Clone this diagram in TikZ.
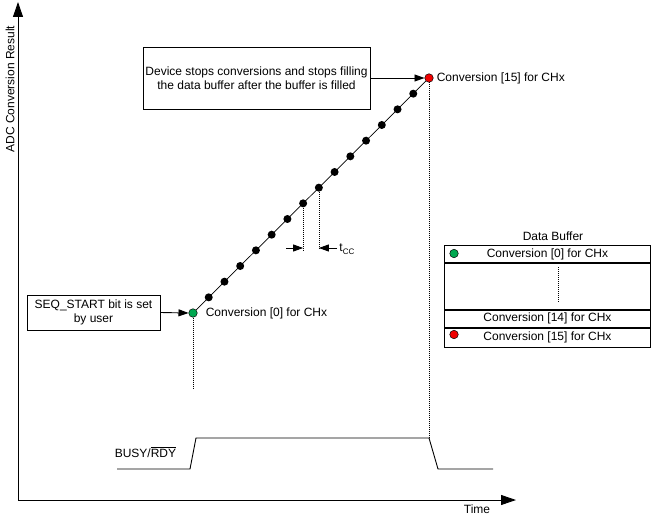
\documentclass[tikz,border=0pt]{standalone}
\usepackage{fontspec}
\setmainfont{Liberation Sans}
\usetikzlibrary{arrows.meta}
\definecolor{mygreen}{RGB}{0,168,80}
\definecolor{myred}{RGB}{240,0,0}
\begin{document}
\begin{tikzpicture}[x=1pt,y=-1pt,line width=0.9pt,
  font=\fontsize{12}{14}\selectfont,
  bdot/.style={circle,fill=black,inner sep=0pt,minimum size=8pt},
  cdot/.style={circle,draw=black,line width=0.5pt,inner sep=0pt,minimum size=8.5pt},
  txtbox/.style={draw,align=center,inner sep=0pt},
  arr/.style={-{Triangle[length=10pt,width=7pt]}},
  axarr/.style={{Triangle[length=15pt,width=10pt]}-{Triangle[length=15pt,width=10pt]}},
  dotline/.style={dash pattern=on 1pt off 1pt,line width=0.7pt},
  tabrow/.style={draw,minimum width=206pt,inner sep=0pt,anchor=north west}]
\useasboundingbox (0,0) rectangle (651,519);

% axes
\coordinate (ytop) at (18,2);
\coordinate (o) at (18,500);
\coordinate (xend) at (516,500);
\draw[axarr] (ytop) -- (o) -- (xend);
\node[rotate=90] (ylab) at (10,89) {ADC Conversion Result};
\node (xlab) at (477,509) {Time};

% boxes
\node[txtbox,minimum width=227pt,minimum height=62pt] (dev) at (256.5,78) {Device stops conversions and stops filling\\the data buffer after the buffer is filled};
\node[txtbox,minimum width=133pt,minimum height=35pt] (seq) at (93.5,312.5) {SEQ\_START bit is set\\by user};

% dots
\foreach \i in {1,...,14}
  \node[bdot] (d\i) at ({193+15.733*\i},{313-15.667*\i}) {};
\node[cdot,fill=mygreen] (d0) at (193,313) {};
\node[cdot,fill=myred] (d15) at (429,78) {};
\draw[line width=0.7pt] (d0) -- (d15);

\draw[arr] (seq.east) -- (d0.west);
\draw[arr] (dev.east) -- (d15.west);

\node[anchor=west] (c0) at (202,313) {Conversion [0] for CHx};
\node[anchor=west] (c15) at (433,78) {Conversion [15] for CHx};

% busy waveform
\coordinate (b1) at (117,469);
\coordinate (b2) at (190,469);
\coordinate (b3) at (196,438);
\coordinate (b4) at (429,438);
\coordinate (b5) at (438,469);
\coordinate (b6) at (493,469);
\draw (b1) -- (b2) -- (b3) -- (b4) -- (b5) -- (b6);
\node[anchor=west] (busy) at (111,452) {BUSY/$\overline{\mbox{RDY}}$};

% dotted guide lines
\coordinate (g0) at (193,388);
\draw[dotline] (d0) -- (g0);
\draw[dotline] (d15) -- (b4);
\coordinate (tl) at (0,250);
\draw[dotline] (d7) -- (d7 |- tl);
\draw[dotline] (d8) -- (d8 |- tl);
\coordinate (ta) at (286,248);
\coordinate (tb) at (337,248);
\draw[arr] (ta) -- (d7 |- ta);
\draw[arr] (tb) -- (d8 |- tb);
\node[anchor=west,inner sep=0pt] (tcc) at (339,249) {t\raisebox{-2.5pt}{\fontsize{8}{8}\selectfont CC}};

% data buffer
\node (dbl) at (553,236) {Data Buffer};
\node[tabrow,minimum height=17pt] (r0) at (444,245) {Conversion [0] for CHx};
\node[tabrow,minimum height=46pt] (r1) at (r0.south west) {};
\node[tabrow,minimum height=17pt] (r14) at (r1.south west) {Conversion [14] for CHx};
\node[tabrow,minimum height=19pt] (r15) at (r14.south west) {Conversion [15] for CHx};
\node[cdot,fill=mygreen] (bg) at (454,253.5) {};
\node[cdot,fill=myred] (br) at (454,334.5) {};
\coordinate (q1) at (558,267);
\coordinate (q2) at (558,303);
\draw[dotline] (q1) -- (q2);
\end{tikzpicture}
\end{document}
